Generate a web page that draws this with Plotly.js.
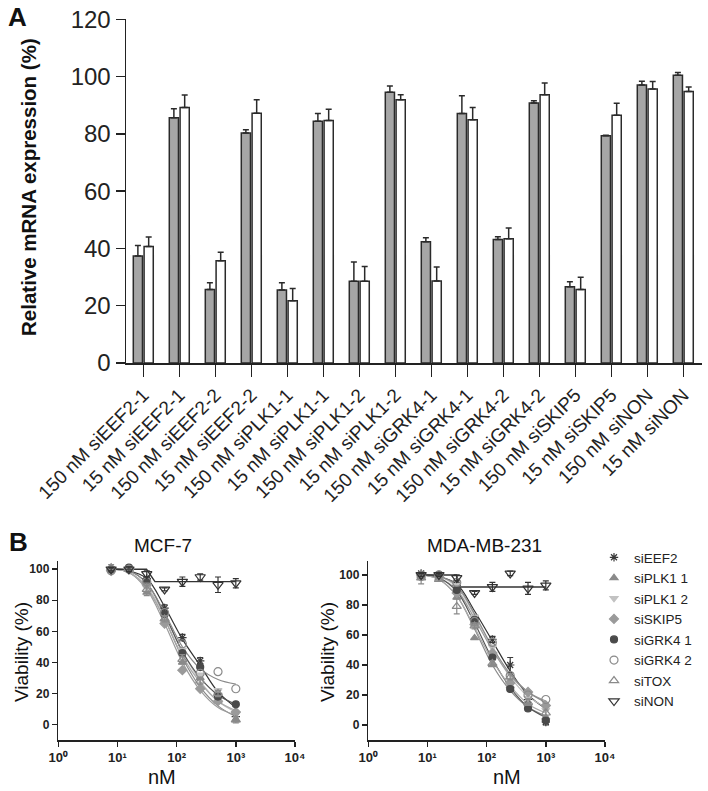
<!DOCTYPE html>
<html>
<head>
<meta charset="utf-8">
<script src="https://cdn.plot.ly/plotly-3.0.1.min.js"></script>
<style>html,body{margin:0;padding:0;background:#fff}#chart{width:708px;height:791px}</style>
</head>
<body>
<div id="chart"></div>
<script>
// ---------- Panel A data ----------
const categories = ["150 nM siEEF2-1","15 nM siEEF2-1","150 nM siEEF2-2","15 nM siEEF2-2","150 nM siPLK1-1","15 nM siPLK1-1","150 nM siPLK1-2","15 nM siPLK1-2","150 nM siGRK4-1","15 nM siGRK4-1","150 nM siGRK4-2","15 nM siGRK4-2","150 nM siSKIP5","15 nM siSKIP5","150 nM siNON","15 nM siNON"];
const grayValues = [37.4, 85.6, 25.7, 80.3, 25.5, 84.4, 28.5, 94.5, 42.3, 87.1, 43.1, 90.8, 26.6, 79.3, 97.1, 100.5];
const grayErrors = [3.6, 3.2, 2.3, 1.1, 2.5, 2.7, 6.8, 2.2, 1.4, 6.2, 1.0, 0.8, 1.8, 0.2, 1.3, 0.9];
const whiteValues = [40.7, 89.2, 35.7, 87.2, 21.7, 84.7, 28.5, 91.9, 28.6, 84.9, 43.4, 93.7, 25.7, 86.5, 95.7, 94.8];
const whiteErrors = [3.3, 4.4, 3.0, 4.7, 4.3, 3.9, 5.2, 1.8, 4.9, 4.3, 3.7, 4.1, 4.2, 4.2, 2.6, 1.6];
const yTicksA = [0, 20, 40, 60, 80, 100, 120];

// ---------- Panel B data ----------
const doses = [7.8125, 15.625, 31.25, 62.5, 125, 250, 500, 1000];
const seriesNames = ["siEEF2", "siPLK1 1", "siPLK1 2", "siSKIP5", "siGRK4 1", "siGRK4 2", "siTOX", "siNON"];

// MCF-7 measured points
const mcf_siEEF2  = [100, 100, 94, 75, 56, 41, 20, 5];
const mcf_siPLK1_1 = [101, 100, 85, 68, 40, 30, 15, 3];
const mcf_siPLK1_2 = [100, 100, 88, 70, 48, 32, 22, 7];
const mcf_siSKIP5 = [99, 100, 90, 65, 35, 23, 15, 8];
const mcf_siGRK4_1 = [100, 101, 93, 71, 46, 37, 18, 13];
const mcf_siGRK4_2 = [99, 100, 92, 72, 52, 33, 34, 23];
const mcf_siTOX = [101, 100, 87, 68, 42, 28, 20, 3];
const mcf_siNON = [100, 100, 97, 87, 92, 95, 90, 91];
// MCF-7 fitted curves (read at the doses)
const mcfFit_siEEF2  = [100, 99, 94, 76, 55, 38, 21, 11];
const mcfFit_siPLK1_1 = [100, 98, 88, 68, 43, 24, 12, 5];
const mcfFit_siPLK1_2 = [100, 98, 89, 70, 47, 28, 15, 8];
const mcfFit_siSKIP5 = [100, 98, 87, 65, 40, 22, 11, 6];
const mcfFit_siGRK4_1 = [100, 99, 91, 71, 47, 30, 19, 13];
const mcfFit_siGRK4_2 = [100, 99, 91, 72, 50, 36, 29, 26];
const mcfFit_siTOX = [100, 98, 88, 68, 44, 27, 15, 9];
const mcfFit_siNON_x = [7.8125, 31, 43, 1000];
const mcfFit_siNON_y = [100, 100, 92, 92];

// MDA-MB-231 measured points
const mda_siEEF2  = [101, 100, 93, 71, 57, 40, 17, 2];
const mda_siPLK1_1 = [99, 98, 85, 58, 40, 26, 14, 5];
const mda_siPLK1_2 = [100, 99, 93, 72, 52, 30, 18, 10];
const mda_siSKIP5 = [100, 99, 88, 67, 48, 28, 22, 13];
const mda_siGRK4_1 = [100, 100, 90, 70, 45, 24, 11, 3];
const mda_siGRK4_2 = [99, 100, 95, 69, 55, 33, 20, 17];
const mda_siTOX = [98, 97, 79, 66, 41, 32, 15, 8];
const mda_siNON = [100, 100, 98, 88, 92, 101, 91, 93];
// MDA-MB-231 fitted curves
const mdaFit_siEEF2  = [100, 99, 94, 76, 56, 36, 20, 11];
const mdaFit_siPLK1_1 = [100, 97, 86, 64, 40, 23, 12, 6];
const mdaFit_siPLK1_2 = [100, 99, 92, 73, 51, 32, 19, 12];
const mdaFit_siSKIP5 = [100, 98, 90, 71, 50, 33, 22, 16];
const mdaFit_siGRK4_1 = [100, 98, 89, 68, 44, 25, 12, 5];
const mdaFit_siGRK4_2 = [100, 99, 93, 74, 52, 34, 22, 15];
const mdaFit_siTOX = [100, 97, 86, 65, 43, 26, 14, 8];
const mdaFit_siNON_x = [7.8125, 31, 34, 1000];
const mdaFit_siNON_y = [100, 100, 92, 92];

// error bars (SD) for selected series
const mcfErr_siNON = [1, 1.5, 2, 1, 3, 2, 5, 3];
const mcfErr_siTOX = [2, 1, 4, 2, 3, 2, 2, 2];
const mcfErr_siEEF2 = [1, 1, 1, 2, 2, 2, 2, 2];
const mdaErr_siNON = [1, 1, 2, 1, 3, 1.5, 4, 3];
const mdaErr_siTOX = [4, 1, 5, 2, 2, 2, 2, 2];
const mdaErr_siEEF2 = [1, 1, 1, 2, 2, 5, 2, 2];

const xTickVals = [1, 10, 100, 1000, 10000];
const xTickText = ["10\u2070", "10\u00b9", "10\u00b2", "10\u00b3", "10\u2074"];
const yTicksB = [0, 20, 40, 60, 80, 100];

// ---------- styles ----------
const FONT = "Liberation Sans, Arial, Helvetica, sans-serif";
const INK = "#222";
const styles = [
  {symbol: "asterisk-open", color: "#3a3a3a", size: 7, curve: "#333"},
  {symbol: "triangle-up", color: "#8a8a8a", size: 7, curve: "#8a8a8a"},
  {symbol: "triangle-down", color: "#c2c2c2", size: 7, curve: "#c0c0c0"},
  {symbol: "diamond", color: "#9a9a9a", size: 7, curve: "#9c9c9c"},
  {symbol: "circle", color: "#4a4a4a", size: 7, curve: "#555"},
  {symbol: "circle-open", color: "#8a8a8a", size: 8, curve: "#8a8a8a"},
  {symbol: "triangle-up-open", color: "#8a8a8a", size: 8, curve: "#aaa"},
  {symbol: "triangle-down-open", color: "#333", size: 9, curve: "#333"}
];

const traces = [];
// Panel A bars
traces.push({
  type: "bar", x: categories, y: grayValues, xaxis: "x", yaxis: "y", name: "gray",
  marker: {color: "#a6a6a6", line: {color: "#2a2a2a", width: 1.5}},
  error_y: {type: "data", symmetric: false, array: grayErrors, arrayminus: grayErrors.map(() => 0), color: "#2a2a2a", thickness: 1.5, width: 3},
  showlegend: false, hoverinfo: "x+y"
});
traces.push({
  type: "bar", x: categories, y: whiteValues, xaxis: "x", yaxis: "y", name: "white",
  marker: {color: "#ffffff", line: {color: "#2a2a2a", width: 1.5}},
  error_y: {type: "data", symmetric: false, array: whiteErrors, arrayminus: whiteErrors.map(() => 0), color: "#2a2a2a", thickness: 1.5, width: 3},
  showlegend: false, hoverinfo: "x+y"
});

const mcfPts = [mcf_siEEF2, mcf_siPLK1_1, mcf_siPLK1_2, mcf_siSKIP5, mcf_siGRK4_1, mcf_siGRK4_2, mcf_siTOX, mcf_siNON];
const mcfFits = [mcfFit_siEEF2, mcfFit_siPLK1_1, mcfFit_siPLK1_2, mcfFit_siSKIP5, mcfFit_siGRK4_1, mcfFit_siGRK4_2, mcfFit_siTOX];
const mdaPts = [mda_siEEF2, mda_siPLK1_1, mda_siPLK1_2, mda_siSKIP5, mda_siGRK4_1, mda_siGRK4_2, mda_siTOX, mda_siNON];
const mdaFits = [mdaFit_siEEF2, mdaFit_siPLK1_1, mdaFit_siPLK1_2, mdaFit_siSKIP5, mdaFit_siGRK4_1, mdaFit_siGRK4_2, mdaFit_siTOX];
const mcfErrs = {0: mcfErr_siEEF2, 6: mcfErr_siTOX, 7: mcfErr_siNON};
const mdaErrs = {0: mdaErr_siEEF2, 6: mdaErr_siTOX, 7: mdaErr_siNON};

function addPanel(pts, fits, nonX, nonY, errs, xa, ya, legend) {
  for (let i = 0; i < 7; i++) {
    traces.push({type: "scatter", mode: "lines", x: doses, y: fits[i], xaxis: xa, yaxis: ya,
      line: {shape: "spline", smoothing: 1, color: styles[i].curve, width: 1.2},
      showlegend: false, hoverinfo: "skip"});
  }
  traces.push({type: "scatter", mode: "lines", x: nonX, y: nonY, xaxis: xa, yaxis: ya,
    line: {color: styles[7].curve, width: 1.4}, showlegend: false, hoverinfo: "skip"});
  for (let i = 0; i < 8; i++) {
    const s = styles[i];
    const t = {type: "scatter", mode: "markers", x: doses, y: pts[i], xaxis: xa, yaxis: ya, name: seriesNames[i],
      marker: {symbol: s.symbol, size: s.size, color: s.color, line: {color: s.color, width: 1.2}},
      showlegend: legend, legendgroup: seriesNames[i]};
    if (errs[i]) t.error_y = {type: "data", array: errs[i], color: s.color, thickness: 1.2, width: 3};
    traces.push(t);
  }
}
addPanel(mcfPts, mcfFits, mcfFit_siNON_x, mcfFit_siNON_y, mcfErrs, "x2", "y2", false);
addPanel(mdaPts, mdaFits, mdaFit_siNON_x, mdaFit_siNON_y, mdaErrs, "x3", "y3", true);

const W = 708, H = 791;
const px = v => v / W, py = v => 1 - v / H;

const bAxisX = (dom, anchor) => ({
  domain: dom, anchor: anchor, type: "log", range: [0, 4],
  tickvals: xTickVals, ticktext: xTickText, ticks: "outside", ticklen: 5, tickwidth: 1.5, tickcolor: INK,
  showline: true, linecolor: INK, linewidth: 1.5, showgrid: false, zeroline: false,
  tickfont: {family: FONT, size: 13, color: INK, weight: "bold"}
});
const bAxisY = (anchor, top) => ({
  domain: [py(740), py(560.7)], anchor: anchor, range: [-10, top],
  tickvals: yTicksB, ticks: "outside", ticklen: 5, tickwidth: 1.5, tickcolor: INK,
  showline: true, linecolor: INK, linewidth: 1.5, showgrid: false, zeroline: false,
  tickfont: {family: FONT, size: 12, color: INK, weight: "bold"}
});

const layout = {
  width: W, height: H,
  margin: {l: 0, r: 0, t: 0, b: 0},
  paper_bgcolor: "#fff", plot_bgcolor: "rgba(0,0,0,0)",
  font: {family: FONT, color: INK},
  barmode: "group", bargap: 0.4, bargroupgap: 0.15,
  showlegend: true,
  legend: {x: px(594), y: py(542), xanchor: "left", yanchor: "top", font: {family: FONT, size: 13.5, color: INK},
    bgcolor: "rgba(0,0,0,0)", tracegroupgap: 0, itemwidth: 30},
  xaxis: {
    domain: [px(126), px(702)], anchor: "y", type: "category", range: [-0.48, 15.52],
    ticks: "outside", ticklen: 12, tickwidth: 1.5, tickcolor: INK, tickangle: -45,
    showline: true, linecolor: INK, linewidth: 1.5, showgrid: false, zeroline: false,
    tickfont: {family: FONT, size: 19, color: INK}
  },
  yaxis: {
    domain: [py(363), py(19.3)], anchor: "x", range: [0, 120], tickvals: yTicksA,
    ticks: "outside", ticklen: 9, tickwidth: 1.5, tickcolor: INK,
    showline: true, linecolor: INK, linewidth: 1.5, showgrid: false, zeroline: false,
    tickfont: {family: FONT, size: 24, color: INK}
  },
  xaxis2: bAxisX([px(58.3), px(295)], "y2"),
  yaxis2: bAxisY("x2", 105.5),
  xaxis3: bAxisX([px(368.3), px(605)], "y3"),
  yaxis3: bAxisY("x3", 109.5),
  annotations: [
    {text: "<b>A</b>", x: px(17), y: py(17), xref: "paper", yref: "paper", showarrow: false, xanchor: "center", yanchor: "middle", font: {size: 26, family: FONT, color: "#111"}},
    {text: "<b>Relative mRNA expression (%)</b>", x: px(28), y: py(187), xref: "paper", yref: "paper", showarrow: false, textangle: -90, xanchor: "center", yanchor: "middle", font: {size: 20.5, family: FONT, color: "#111"}},
    {text: "<b>B</b>", x: px(18), y: py(542), xref: "paper", yref: "paper", showarrow: false, xanchor: "center", yanchor: "middle", font: {size: 26, family: FONT, color: "#111"}},
    {text: "MCF-7", x: px(163), y: py(545), xref: "paper", yref: "paper", showarrow: false, xanchor: "center", yanchor: "middle", font: {size: 19, family: FONT, color: "#111"}},
    {text: "MDA-MB-231", x: px(484), y: py(545), xref: "paper", yref: "paper", showarrow: false, xanchor: "center", yanchor: "middle", font: {size: 19, family: FONT, color: "#111"}},
    {text: "Viability (%)", x: px(21), y: py(652), xref: "paper", yref: "paper", showarrow: false, textangle: -90, xanchor: "center", yanchor: "middle", font: {size: 19, family: FONT, color: "#111"}},
    {text: "Viability (%)", x: px(327), y: py(652), xref: "paper", yref: "paper", showarrow: false, textangle: -90, xanchor: "center", yanchor: "middle", font: {size: 19, family: FONT, color: "#111"}},
    {text: "nM", x: px(162), y: py(777), xref: "paper", yref: "paper", showarrow: false, xanchor: "center", yanchor: "middle", font: {size: 20, family: FONT, color: "#111"}},
    {text: "nM", x: px(507), y: py(777), xref: "paper", yref: "paper", showarrow: false, xanchor: "center", yanchor: "middle", font: {size: 20, family: FONT, color: "#111"}}
  ]
};

Plotly.newPlot("chart", traces, layout, {staticPlot: true, displayModeBar: false});
</script>
</body>
</html>
